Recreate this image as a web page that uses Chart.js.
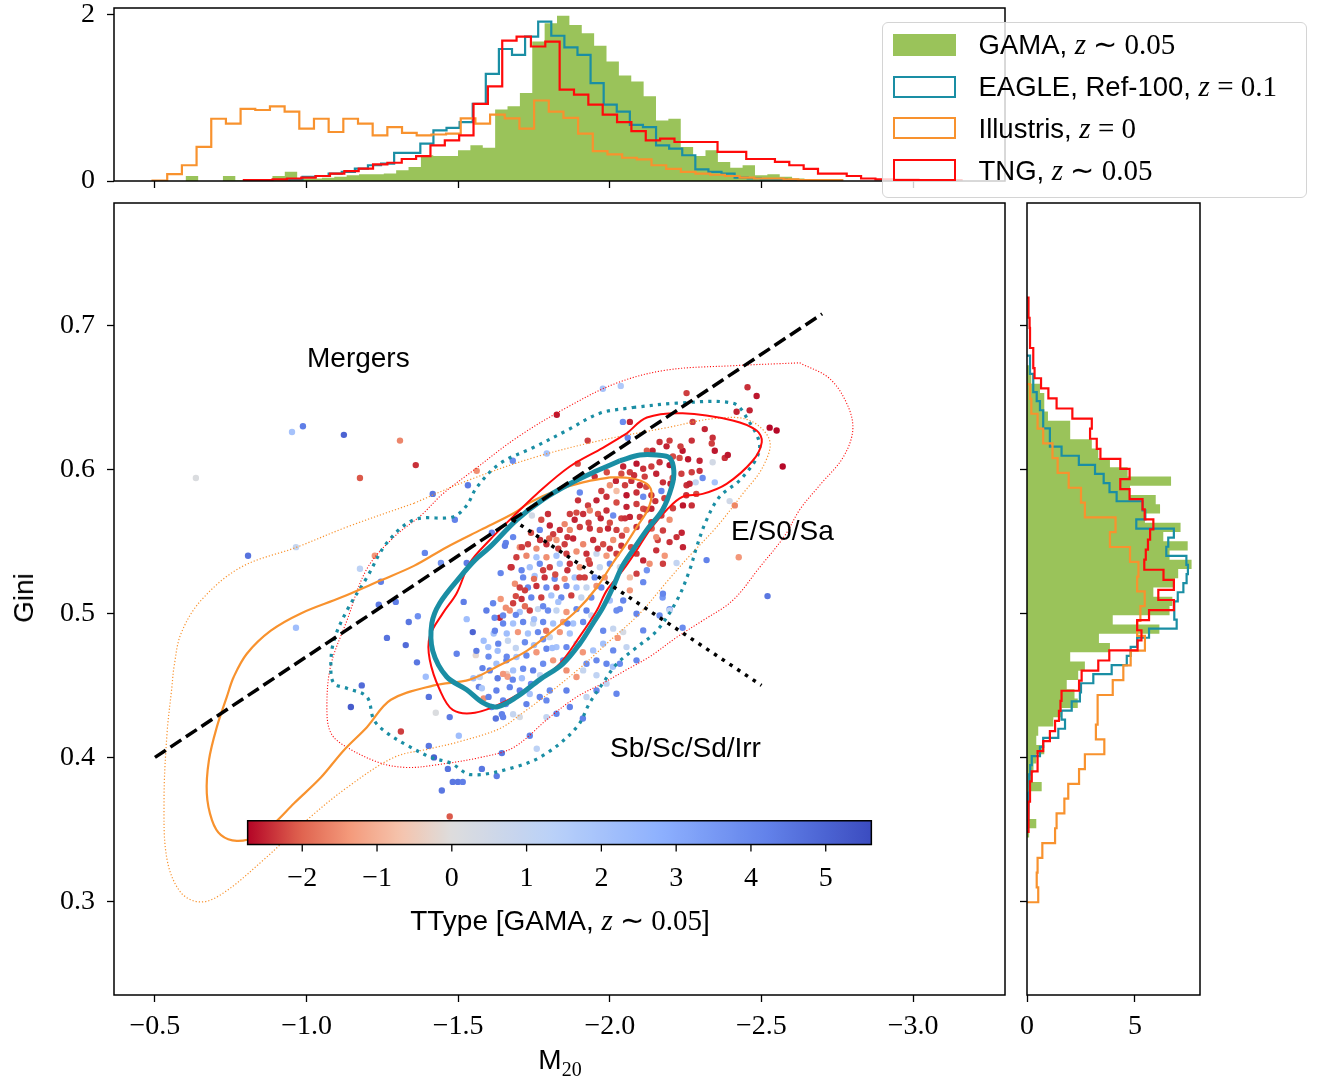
<!doctype html>
<html lang="en">
<head>
<meta charset="UTF-8">
<title>Gini – M20 plane: GAMA, EAGLE, Illustris and TNG</title>
<script src="https://cdn.jsdelivr.net/npm/chart.js"></script>
<style>
  body { margin: 0; background: #fff; }
  #fig { position: relative; width: 1317px; height: 1084px; overflow: hidden;
         font-family: "Liberation Sans", Arial, sans-serif; color: #000; }
  #fig canvas { position: absolute; }
  .txt { position: absolute; font-size: 28px; line-height: 1; white-space: nowrap; transform: translateY(-50%); }
  .mi { font-family: "Liberation Serif", serif; font-style: italic; font-size: 29px; }
  .rm { font-family: "Liberation Serif", serif; font-size: 29px; }
  .sub { font-family: "Liberation Serif", serif; font-size: 20px; position: relative; top: 7px; }
  #legend { position: absolute; left: 882px; top: 22px; width: 425px; height: 176px; box-sizing: border-box;
            border: 1.5px solid #d4d4d4; border-radius: 6px; background: rgba(255,255,255,0.8); }
  .entry { position: absolute; left: 0; height: 30px; display: flex; align-items: center; font-size: 27.5px; white-space: nowrap; }
  .patch { display: inline-block; margin-left: 9.5px; width: 63px; height: 22px; box-sizing: border-box; }
  .entry .label { margin-left: 23px; line-height: 1; }
</style>
</head>
<body>
<div id="fig">
  <canvas id="top" width="1010" height="192" style="left:0;top:0"></canvas>
  <canvas id="main" width="1012" height="894" style="left:0;top:190px"></canvas>
  <canvas id="side" width="305" height="894" style="left:1012px;top:190px"></canvas>

  <div class="txt" style="left:24px;top:598px;transform:translate(-50%,-50%) rotate(-90deg)">Gini</div>
  <div class="txt" style="left:560px;top:1060px;transform:translate(-50%,-50%)">M<span class="sub">20</span></div>
  <div class="txt" style="left:307px;top:358px">Mergers</div>
  <div class="txt" style="left:731px;top:531px">E/S0/Sa</div>
  <div class="txt" style="left:610px;top:748px">Sb/Sc/Sd/Irr</div>
  <div class="txt" style="left:560px;top:920px;transform:translate(-50%,-50%)">TType [GAMA, <span class="mi">z</span><span class="rm"> ∼ 0.05</span>]</div>

  <div id="legend">
    <div class="entry" style="top:6.5px"><span class="patch" style="background:#9ac35a"></span><span class="label">GAMA, <span class="mi">z</span><span class="rm"> ∼ 0.05</span></span></div>
    <div class="entry" style="top:48.5px"><span class="patch" style="border:2.5px solid #1a8ea4"></span><span class="label">EAGLE, Ref-100, <span class="mi">z</span><span class="rm"> = 0.1</span></span></div>
    <div class="entry" style="top:90.3px"><span class="patch" style="border:2.5px solid #f8922e"></span><span class="label">Illustris, <span class="mi">z</span><span class="rm"> = 0</span></span></div>
    <div class="entry" style="top:132px"><span class="patch" style="border:2.5px solid #ff0a0a"></span><span class="label">TNG, <span class="mi">z</span><span class="rm"> ∼ 0.05</span></span></div>
  </div>
</div>

<script>
// ---------------- data ----------------
const T_MIN = -2.73, T_MAX = 5.61;          // colour-bar range of TType

const m20Ticks = [-0.5, -1.0, -1.5, -2.0, -2.5, -3.0];
const giniTicks = [0.3, 0.4, 0.5, 0.6, 0.7];
const topDensityTicks = [0, 2];
const sideDensityTicks = [0, 5];
const ttypeTicks = [-2, -1, 0, 1, 2, 3, 4, 5];

// GAMA galaxies: [M20, Gini, TType]
const gamaGalaxies = [
  [-0.635,0.594,0.1],[-0.952,0.626,2.0],[-0.988,0.630,4.3],[-1.123,0.624,5.0],[-1.308,0.620,-1.6],
  [-1.360,0.603,-2.4],[-1.176,0.594,-2.1],[-0.807,0.540,4.6],[-0.965,0.546,0.9],[-0.965,0.490,2.2],
  [-1.225,0.540,-1.4],[-1.176,0.531,1.2],[-1.245,0.522,4.3],[-1.238,0.506,4.4],[-1.294,0.508,4.3],
  [-1.337,0.494,4.5],[-1.367,0.498,3.8],[-1.390,0.542,4.1],[-1.443,0.535,3.7],[-1.528,0.535,4.4],
  [-1.489,0.565,4.2],[-1.265,0.483,4.6],[-1.327,0.478,4.8],[-1.364,0.466,4.5],[-1.393,0.456,2.2],
  [-1.403,0.442,4.6],[-1.146,0.435,5.2],[-1.182,0.450,4.8],[-1.426,0.431,0.1],[-1.311,0.418,-2.3],
  [-1.403,0.408,4.5],[-1.420,0.400,5.1],[-1.466,0.392,4.6],[-1.502,0.415,2.2],[-1.482,0.383,4.5],
  [-1.499,0.383,4.5],[-1.515,0.383,4.3],[-1.446,0.377,4.5],[-1.472,0.359,-2.1],[-1.578,0.392,4.5],
  [-1.627,0.387,4.4],[-1.644,0.403,4.5],[-1.472,0.428,4.4],[-1.518,0.508,4.3],[-1.528,0.496,2.2],
  [-1.548,0.487,5.0],[-1.495,0.472,4.2],[-1.558,0.471,-0.2],[-1.617,0.486,2.0],[-1.584,0.481,2.2],
  [-1.640,0.510,-1.4],[-1.637,0.497,-2.5],[-1.657,0.504,-1.5],[-1.673,0.532,-2.4],[-1.640,0.528,4.1],
  [-1.657,0.549,4.2],[-1.568,0.449,4.4],[-1.578,0.448,1.8],[-1.584,0.441,-1.5],[-1.630,0.455,4.4],
  [-1.660,0.458,-0.3],[-1.663,0.456,-1.3],[-1.624,0.427,4.6],[-1.644,0.430,4.2],[-1.657,0.437,3.9],
  [-1.977,0.656,2.0],[-2.036,0.658,1.7],[-1.825,0.638,-2.6],[-2.253,0.653,-2.3],[-2.454,0.657,-2.4],
  [-2.484,0.651,-2.6],[-2.418,0.640,-2.5],[-2.461,0.641,-2.5],[-2.527,0.629,-2.7],[-2.550,0.627,-2.7],
  [-2.570,0.602,-2.7],[-2.520,0.512,4.5],[-2.425,0.539,-1.4],[-2.412,0.575,-1.6],[-2.319,0.537,4.2],
  [-2.240,0.490,3.9],[-2.197,0.503,3.7],[-2.220,0.535,1.0],[-2.174,0.511,3.5],[-2.122,0.530,3.7],
  [-2.181,0.540,-1.4],[-2.158,0.551,-2.3],[-2.237,0.556,-2.5],[-2.220,0.553,-2.4],[-2.197,0.565,-1.5],
  [-2.138,0.559,-2.1],[-2.270,0.575,-2.4],[-2.346,0.591,2.0],[-2.395,0.578,0.5],[-2.339,0.605,0.4],
  [-2.306,0.594,3.9],[-2.283,0.591,1.0],[-2.270,0.598,-2.3],[-2.253,0.589,-2.4],[-2.207,0.594,-2.2],
  [-2.273,0.633,-2.3],[-2.313,0.628,-2.5],[-2.339,0.622,-2.4],[-2.336,0.618,-2.3],[-2.346,0.613,-2.6],
  [-2.379,0.608,-2.4],[-2.389,0.610,-2.6],[-2.296,0.606,-2.5],[-2.270,0.620,-2.4],[-2.240,0.613,-2.6],
  [-2.230,0.608,-2.2],[-2.197,0.620,-2.3],[-2.164,0.619,-2.4],[-2.141,0.613,-2.5],[-2.122,0.613,-2.1],
  [-2.066,0.633,-2.5],[-2.043,0.633,3.9],[-2.059,0.622,4.1],[-1.927,0.620,-2.3],[-1.894,0.604,-2.2],
  [-1.792,0.611,2.0],[-1.680,0.606,3.9],[-1.561,0.599,-1.5],[-1.532,0.589,4.4],[-1.416,0.583,4.5],
  [-1.611,0.556,4.2],[-1.654,0.547,4.3],[-1.743,0.568,0.4],
  [-2.187,0.616,-2.5],[-2.233,0.616,-2.3],[-2.258,0.607,-2.6],[-2.208,0.609,-2.2],[-2.164,0.605,-2.4],
  [-2.197,0.603,-2.6],[-2.236,0.597,-2.3],[-2.263,0.590,-2.5],[-2.296,0.599,-2.4],[-2.285,0.583,-2.2],
  [-2.252,0.582,-2.4],[-2.241,0.575,-2.6],[-2.208,0.573,-2.3],[-2.175,0.591,-2.4],[-2.153,0.597,-2.5],
  [-2.137,0.602,-2.3],[-2.110,0.6005,-2.4],[-2.088,0.604,-2.6],[-2.066,0.598,-2.3],[-2.044,0.602,-2.5],
  [-2.038,0.597,-2.2],[-2.071,0.592,-2.4],[-2.099,0.589,-2.5],[-2.115,0.595,-2.3],[-2.088,0.584,-2.4],
  [-2.055,0.582,-2.6],[-2.022,0.585,-0.8],[-2.000,0.589,-1.5],[-1.972,0.585,-2.3],[-1.989,0.581,-2.4],
  [-2.022,0.577,-2.2],[-2.055,0.574,-2.5],[-2.088,0.576,-2.3],[-2.110,0.581,3.9],[-2.137,0.582,-2.4],
  [-2.170,0.585,4.1],[-1.956,0.5785,-2.5],[-1.928,0.575,-2.3],[-1.895,0.5785,-2.4],[-1.901,0.584,4.0],
  [-1.868,0.569,-2.3],[-1.851,0.562,-1.6],[-1.884,0.565,-2.5],[-1.912,0.569,-2.4],[-1.934,0.5715,-1.6],
  [-1.961,0.569,-2.2],[-1.989,0.5715,-2.4],[-2.011,0.568,3.9],[-2.038,0.566,-2.3],[-2.066,0.567,-2.5],
  [-2.099,0.567,-2.3],[-2.088,0.560,-2.4],[-2.055,0.558,-1.5],[-2.022,0.558,-2.3],[-1.994,0.559,-2.5],
  [-1.967,0.558,-2.2],[-1.934,0.559,-2.4],[-1.901,0.560,-2.3],[-1.868,0.558,-1.6],[-1.835,0.558,-2.4],
  [-1.813,0.555,-2.3],[-1.802,0.561,-2.5],[-1.774,0.565,-2.2],[-1.796,0.569,-2.4],[-1.769,0.558,4.0],
  [-1.681,0.553,4.1],[-1.703,0.546,-1.5],[-1.730,0.548,-2.3],[-1.758,0.545,-1.6],[-1.791,0.548,-2.4],
  [-1.824,0.551,-1.4],[-1.851,0.548,-2.3],[-1.879,0.552,-2.5],[-1.912,0.548,-1.6],[-1.945,0.551,-2.4],
  [-1.978,0.548,-2.2],[-2.011,0.551,-1.5],[-2.038,0.547,-2.4],[-2.022,0.5415,-2.3],[-1.989,0.540,-1.4],
  [-1.956,0.5415,0.8],[-1.923,0.5415,-2.4],[-1.890,0.543,-1.5],[-1.857,0.5415,-2.3],[-1.824,0.540,2.0],
  [-1.791,0.539,-1.5],[-1.758,0.539,1.9],[-1.725,0.540,-1.6],[-1.692,0.539,-2.3],[-1.676,0.532,-2.4],
  [-1.709,0.530,4.1],[-1.736,0.532,2.0],[-1.769,0.5345,3.9],[-1.802,0.532,-2.3],[-1.835,0.5345,2.1],
  [-1.868,0.5345,-2.4],[-1.901,0.532,-1.5],[-1.934,0.5345,-2.3],[-1.967,0.532,0.9],[-2.000,0.5345,3.9],
  [-2.033,0.532,0.4],[-1.983,0.525,-1.5],[-1.950,0.525,4.0],[-1.917,0.525,-2.3],[-1.884,0.525,2.0],
  [-1.851,0.524,-1.5],[-1.818,0.524,3.9],[-1.785,0.525,-2.4],[-1.752,0.526,2.0],[-1.714,0.525,4.0],
  [-1.687,0.5206,-1.5],[-1.703,0.518,-2.3],[-1.730,0.518,4.0],[-1.758,0.519,-2.4],[-1.791,0.518,3.9],
  [-1.824,0.518,-2.3],[-1.857,0.519,4.0],[-1.890,0.518,2.0],[-1.923,0.518,0.9],[-1.956,0.519,-1.5],
  [-1.972,0.518,4.1],[-1.939,0.511,3.9],[-1.906,0.511,0.9],[-1.873,0.5125,-2.3],[-1.840,0.511,4.0],
  [-1.807,0.5125,2.0],[-1.774,0.511,-2.3],[-1.741,0.511,4.1],[-1.709,0.510,-2.4],[-1.681,0.507,-2.3],
  [-1.615,0.507,4.1],[-1.593,0.502,4.3],[-1.648,0.4986,4.0],[-1.670,0.502,-1.5],[-1.703,0.501,2.0],
  [-1.736,0.502,-2.3],[-1.763,0.503,0.9],[-1.796,0.502,3.9],[-1.824,0.502,1.0],[-1.857,0.501,-1.4],
  [-1.890,0.503,4.0],[-1.923,0.502,4.2],[-1.939,0.4986,0.9],[-1.912,0.494,4.0],[-1.879,0.493,2.0],
  [-1.846,0.494,-1.4],[-1.813,0.493,2.1],[-1.780,0.494,4.0],[-1.747,0.493,0.9],[-1.714,0.494,4.1],
  [-1.681,0.493,2.0],[-1.648,0.493,4.1],[-1.621,0.488,4.2],[-1.560,0.474,4.4],[-1.599,0.4766,2.0],
  [-1.632,0.479,4.1],[-1.664,0.481,0.9],[-1.697,0.487,-1.4],[-1.730,0.486,2.0],[-1.763,0.487,4.0],
  [-1.802,0.4835,1.0],[-1.835,0.487,-1.4],[-1.868,0.486,2.0],[-1.890,0.479,1.1],[-1.857,0.4766,4.0],
  [-1.824,0.4766,2.0],[-1.791,0.4755,4.1],[-1.758,0.473,-1.4],[-1.725,0.4708,4.0],[-1.692,0.4697,2.0],
  [-1.659,0.4674,4.2],[-1.626,0.465,2.1],[-1.604,0.4604,4.2],[-1.571,0.4558,0.9],[-1.648,0.458,-1.4],
  [-1.681,0.4604,2.0],[-1.714,0.4616,4.0],[-1.747,0.4604,4.2],[-1.780,0.465,3.9],[-1.813,0.4674,-1.4],
  [-1.846,0.4674,4.0],[-1.670,0.4488,4.1],[-1.703,0.4465,4.3],[-1.736,0.444,2.0],[-1.769,0.442,4.1],
  [-1.802,0.4465,3.9],[-1.626,0.4465,4.2],[-1.610,0.435,4.3],[-1.648,0.4396,4.1],[-1.681,0.430,0.9],
  [-1.725,0.437,4.2],[-1.791,0.4396,4.0],[-1.857,0.4465,4.2],[-1.890,0.4558,-1.4],[-1.857,0.4604,-1.5],
  [-1.912,0.4604,0.9],[-1.956,0.457,1.1],[-1.923,0.465,3.9],[-1.945,0.4743,2.0],[-1.978,0.479,2.1],
  [-2.011,0.4743,4.0],[-1.989,0.465,4.1],[-2.033,0.465,3.9],[-1.978,0.488,4.0],[-2.011,0.4894,0.9],
  [-2.044,0.487,0.3],[-2.022,0.502,3.9],[-2.000,0.509,2.0],[-2.044,0.509,4.1],[-2.066,0.516,-1.4],
  [-2.110,0.5217,4.0],[-2.088,0.5276,-2.3],[-2.066,0.525,-0.8],[-2.131,0.5345,-1.5],[-2.153,0.5438,-2.4],
  [-2.175,0.5345,-2.3],[-2.110,0.5368,-2.5],[-2.088,0.5415,-2.3],[-2.153,0.553,-1.5],[-2.197,0.5495,-2.4],
  [-2.241,0.546,-2.5],[-2.175,0.5576,-2.3],[-2.137,0.5634,-2.4],[-2.170,0.568,-2.3],[-2.137,0.5727,-2.5],
  [-2.110,0.5727,-2.2],[-2.175,0.5137,4.1],[-2.197,0.502,1.1],[-2.164,0.4986,3.9],[-2.088,0.4998,4.1],
  [-2.110,0.4882,4.0],[-2.055,0.4766,1.0],[-2.088,0.4674,4.1],[-1.956,0.4674,4.0],[-1.989,0.4512,1.1],
  [-2.022,0.4442,4.1],[-1.956,0.4465,4.0],[-1.923,0.4419,1.0],[-1.868,0.435,4.2],[-1.824,0.4303,4.1],
  [-1.791,0.428,1.0],[-1.703,0.428,0.3],[-1.648,0.428,4.2],[-2.033,0.503,3.9],[-2.010,0.463,2.0],
  [-1.911,0.473,-1.4],[-2.026,0.483,-1.4],[-1.736,0.415,4.2],[-1.759,0.406,1.2],[-1.911,0.427,4.2],
  [-1.950,0.595,-2.4],[-1.990,0.598,-2.2],[-2.020,0.592,-2.5],[-2.050,0.589,-2.3],[-2.080,0.596,-2.4],
  [-2.120,0.588,-2.2],[-2.150,0.578,-2.4],[-2.180,0.580,-2.3],[-2.200,0.590,-2.5],[-2.120,0.572,-2.3],
  [-2.050,0.566,-2.4],[-2.000,0.563,-2.2],[-1.970,0.566,-2.5],[-1.930,0.563,-2.3],[-1.890,0.570,-2.2],
  [-1.860,0.553,-2.4],[-1.830,0.545,-2.3],[-1.800,0.552,-2.0],[-1.770,0.551,-2.4],[-1.740,0.556,-2.2],
  [-1.710,0.546,-2.3],[-1.960,0.545,-2.4],[-1.930,0.537,-2.2],[-1.900,0.525,-2.3],[-1.860,0.530,-2.4],
  [-1.820,0.527,-2.2],[-1.780,0.530,-2.3],[-1.750,0.524,-1.9],[-1.720,0.516,-2.3],[-1.690,0.512,-2.2],
  [-2.040,0.554,-2.3],[-2.070,0.546,-2.2],[-2.000,0.545,-2.4],
  [-1.600,0.470,3.9],[-1.630,0.474,2.2],[-1.660,0.470,4.0],[-1.690,0.476,1.0],[-1.720,0.480,3.9],
  [-1.750,0.478,2.2],[-1.780,0.482,3.8],[-1.810,0.476,2.2],[-1.680,0.454,4.1],[-1.710,0.455,2.2],
  [-1.740,0.451,4.0],[-1.770,0.457,1.0],[-1.620,0.497,4.0],[-1.660,0.486,2.2],[-1.690,0.499,4.1],
  [-1.750,0.496,2.1],[-1.780,0.505,4.0],[-1.830,0.508,2.0],[-1.860,0.493,4.2],[-1.580,0.462,4.2],
  [-1.550,0.455,2.2],[-1.600,0.442,4.2],[-1.720,0.505,-1.9],[-1.790,0.488,-1.8]
];

// density contours, [M20, Gini] vertices of each closed level
const eagleInner = [[-2.033,0.606],[-2.099,0.610],[-2.155,0.610],[-2.197,0.608],[-2.211,0.599],[-2.204,0.588],
  [-2.174,0.572],[-2.122,0.558],[-2.076,0.544],[-2.039,0.532],[-2.010,0.518],[-1.977,0.504],[-1.944,0.493],
  [-1.901,0.479],[-1.845,0.465],[-1.769,0.454],[-1.693,0.442],[-1.627,0.435],[-1.581,0.438],[-1.528,0.447],
  [-1.462,0.456],[-1.416,0.474],[-1.413,0.493],[-1.439,0.507],[-1.505,0.525],[-1.555,0.537],[-1.604,0.546],
  [-1.693,0.565],[-1.779,0.579],[-1.868,0.590],[-1.957,0.599],[-2.033,0.606]];
const eagleOuter = [[-2.076,0.643],[-2.221,0.646],[-2.405,0.646],[-2.451,0.636],[-2.494,0.615],[-2.438,0.5945],
  [-2.362,0.581],[-2.319,0.565],[-2.286,0.546],[-2.263,0.530],[-2.221,0.509],[-2.155,0.488],[-2.089,0.4765],
  [-2.023,0.465],[-1.977,0.4515],[-1.934,0.438],[-1.891,0.421],[-1.785,0.402],[-1.683,0.393],[-1.542,0.388],
  [-1.476,0.396],[-1.410,0.400],[-1.331,0.4085],[-1.265,0.417],[-1.222,0.426],[-1.199,0.442],[-1.133,0.448],
  [-1.090,0.4515],[-1.080,0.463],[-1.090,0.481],[-1.133,0.502],[-1.199,0.525],[-1.265,0.549],[-1.354,0.565],
  [-1.482,0.567],[-1.528,0.575],[-1.561,0.5875],[-1.637,0.604],[-1.746,0.615],[-1.858,0.627],[-1.967,0.639],
  [-2.076,0.643]];
const tngInner = [[-2.056,0.625],[-2.122,0.636],[-2.240,0.639],[-2.405,0.634],[-2.484,0.627],[-2.501,0.619],
  [-2.471,0.606],[-2.385,0.590],[-2.306,0.583],[-2.240,0.581],[-2.188,0.572],[-2.132,0.558],[-2.089,0.544],
  [-2.043,0.530],[-1.990,0.516],[-1.957,0.502],[-1.901,0.484],[-1.835,0.465],[-1.759,0.452],[-1.647,0.438],
  [-1.555,0.431],[-1.482,0.433],[-1.439,0.447],[-1.406,0.468],[-1.406,0.484],[-1.449,0.500],[-1.495,0.514],
  [-1.538,0.535],[-1.604,0.551],[-1.680,0.567],[-1.759,0.583],[-1.868,0.602],[-1.977,0.615],[-2.056,0.625]];
const tngOuter = [[-2.626,0.674],[-2.725,0.663],[-2.784,0.6445],[-2.801,0.627],[-2.768,0.608],[-2.692,0.589],
  [-2.626,0.572],[-2.577,0.554],[-2.494,0.532],[-2.405,0.509],[-2.306,0.495],[-2.221,0.4835],[-2.132,0.470],
  [-2.056,0.461],[-1.977,0.4515],[-1.891,0.442],[-1.802,0.428],[-1.683,0.407],[-1.574,0.400],[-1.420,0.3946],
  [-1.331,0.393],[-1.245,0.396],[-1.133,0.407],[-1.080,0.417],[-1.067,0.435],[-1.080,0.464],[-1.133,0.495],
  [-1.199,0.531],[-1.288,0.553],[-1.377,0.568],[-1.449,0.583],[-1.548,0.599],[-1.693,0.622],[-1.858,0.643],
  [-2.023,0.660],[-2.188,0.669],[-2.405,0.672],[-2.626,0.674]];
const illustrisInner = [[-2.000,0.5945],[-2.066,0.594],[-2.122,0.590],[-2.138,0.583],[-2.125,0.572],[-2.089,0.560],
  [-2.056,0.549],[-2.010,0.535],[-1.957,0.518],[-1.891,0.502],[-1.812,0.488],[-1.726,0.474],[-1.627,0.463],
  [-1.538,0.454],[-1.420,0.450],[-1.278,0.440],[-1.199,0.421],[-1.123,0.405],[-1.047,0.386],[-0.958,0.368],
  [-0.892,0.354],[-0.836,0.345],[-0.770,0.342],[-0.718,0.346],[-0.688,0.3565],[-0.671,0.375],[-0.678,0.398],
  [-0.704,0.421],[-0.737,0.442],[-0.760,0.456],[-0.803,0.472],[-0.882,0.488],[-0.981,0.500],[-1.113,0.511],
  [-1.245,0.523],[-1.354,0.533],[-1.462,0.546],[-1.574,0.558],[-1.683,0.5695],[-1.736,0.577],[-1.825,0.5855],
  [-1.911,0.591],[-2.000,0.5945]];
const illustrisOuter = [[-1.354,0.5765],[-1.528,0.592],[-1.746,0.608],[-1.967,0.620],[-2.188,0.629],[-2.352,0.6355],
  [-2.461,0.634],[-2.527,0.620],[-2.504,0.6015],[-2.438,0.583],[-2.352,0.560],[-2.263,0.540],[-2.188,0.522],
  [-2.099,0.500],[-2.000,0.481],[-1.901,0.462],[-1.802,0.445],[-1.713,0.431],[-1.637,0.420],[-1.505,0.411],
  [-1.406,0.406],[-1.288,0.400],[-1.133,0.379],[-1.001,0.3565],[-0.859,0.329],[-0.727,0.306],[-0.652,0.2996],
  [-0.586,0.306],[-0.540,0.329],[-0.530,0.370],[-0.540,0.417],[-0.556,0.449],[-0.563,0.463],[-0.586,0.486],
  [-0.652,0.509],[-0.783,0.532],[-0.968,0.546],[-1.133,0.560],[-1.354,0.5765]];

// Lotz et al. (2008) boundaries
const mergerM20 = [-0.5, -2.7];
const mergerGini = [0.400, 0.708];
const hubbleM20 = [-1.68, -2.5];
const hubbleGini = [0.565, 0.450];

// M20 histograms: [first edge, bin step] and densities
const gamaM20Bins = [-0.6018, -0.04080];
const gamaM20Density = [0.06,0,0,0.06,0.01,0.01,0.01,0.06,0.11,0.03,0.03,0.04,0.05,0.07,0.08,0.08,0.09,0.13,
  0.17,0.31,0.30,0.30,0.37,0.43,0.40,0.86,0.90,1.06,1.68,1.90,1.99,1.88,1.78,1.63,1.44,1.27,1.20,1.02,0.73,
  0.75,0.41,0.30,0.37,0.23,0.16,0.19,0.07,0.08,0.05,0.03,0.02,0.02,0.01];
const eagleM20Bins = [-0.9433, -0.04318];
const eagleM20Density = [0.02,0.05,0.06,0.09,0.11,0.15,0.19,0.21,0.34,0.34,0.45,0.61,0.64,0.71,0.93,1.29,1.59,
  1.52,1.74,1.92,1.75,1.61,1.52,1.18,0.92,0.835,0.675,0.65,0.43,0.39,0.31,0.14,0.11,0.09,0.04,0.03,0.02,0.02,
  0.01,0.01];
const illustrisM20Bins = [-0.4921, -0.04839];
const illustrisM20Density = [0.005,0.084,0.19,0.41,0.75,0.69,0.87,0.855,0.90,0.835,0.63,0.75,0.59,0.75,0.69,
  0.55,0.65,0.58,0.55,0.56,0.57,0.755,0.69,0.80,0.755,0.63,0.97,0.835,0.76,0.57,0.36,0.32,0.28,0.26,0.19,
  0.145,0.11,0.09,0.075,0.06,0.04,0.03,0.03,0.02,0.01,0.01,0.01];
const tngM20Bins = [-0.7932, -0.04733];
const tngM20Density = [0.01,0.01,0.02,0.03,0.04,0.06,0.09,0.12,0.15,0.20,0.22,0.265,0.30,0.43,0.49,0.55,0.93,
  1.14,1.69,1.74,1.62,1.68,1.10,1.04,0.92,0.80,0.71,0.60,0.49,0.51,0.47,0.47,0.47,0.35,0.35,0.265,0.265,0.23,
  0.19,0.145,0.09,0.09,0.06,0.03,0.02,0.02,0.02,0.01,0.01,0.01];

// Gini histograms (edges run downwards from the first one)
const gamaGiniBins = [0.6723, -0.00643];
const gamaGiniDensity = [0.15,0.2,0.6,0.8,0.8,0.97,2.0,2.0,3.0,3.3,3.84,4.66,6.67,4.77,5.96,6.16,5.46,7.11,6.31,
  7.44,6.6,7.62,7.0,6.85,5.85,6.73,6.6,3.97,6.13,3.33,3.84,2.0,2.68,2.37,1.84,2.2,2.35,1.6,1.22,0.52,0.43,0.8,
  0.43,0.3,0.2,0.68,0.15,0.1,0.1,0.43,0.1];
const eagleGiniBins = [0.6790, -0.00632];
const eagleGiniDensity = [0.14,0.14,0.29,0.29,0.45,0.6,0.75,0.75,1.06,1.06,1.6,2.4,3.15,3.55,3.82,4.15,5.35,5.48,
  5.06,6.8,6.54,6.45,7.38,7.45,7.39,7.24,6.98,6.82,6.82,6.93,5.65,5.1,4.8,4.62,3.92,3.07,2.5,2.45,2.07,1.6,1.76,
  1.45,0.75,0.6,0.22,0.15,0.1,0.12,0.08,0.05,0.05,0.03];
const illustrisGiniBins = [0.6592, -0.01028];
const illustrisGiniDensity = [0.14,0.2,0.49,0.75,1.18,1.42,1.93,2.5,2.68,4.1,3.84,4.77,5.16,5.1,5.45,5.25,5.1,
  5.46,4.8,4.46,3.97,3.27,3.27,3.19,3.58,2.68,2.41,1.91,1.73,1.37,1.3,0.71,0.49,0.45,0.52];
const tngGiniBins = [0.7193, -0.0070];
const tngGiniDensity = [0.07,0.07,0.12,0.14,0.14,0.29,0.29,0.35,0.65,0.99,1.37,2.1,3.0,2.92,3.23,3.4,4.32,4.75,
  4.32,4.75,5.35,5.45,5.85,5.7,5.6,5.5,5.43,6.32,6.8,6.08,6.8,5.65,5.1,5.3,5.12,3.81,3.3,2.53,2.41,1.6,1.55,1.48,
  1.3,1.06,0.75,0.49,0.49,0.22,0.14,0.14,0.07,0.07,0.07];

// ---------------- styling helpers ----------------
const C = { gama: '#9ac35a', eagle: '#1a8ea4', illustris: '#f8922e', tng: '#ff0a0a' };

const coolwarm = [[59,76,192],[98,130,234],[141,176,254],[184,208,249],[221,221,221],
                  [245,196,173],[244,154,123],[222,96,77],[180,4,38]];
// reversed coolwarm, s in [0, 1]
function coolwarmR(s) {
  const u = (1 - Math.min(1, Math.max(0, s))) * 8;
  const i = Math.min(7, Math.floor(u)), f = u - i;
  const a = coolwarm[i], b = coolwarm[i + 1];
  return 'rgb(' + a.map((c, k) => Math.round(c + (b[k] - c) * f)).join(',') + ')';
}
// two-slope norm centred on TType = 0
function ttypeColor(t) {
  const s = t < 0 ? 0.5 * (t - T_MIN) / -T_MIN : 0.5 + 0.5 * t / T_MAX;
  return coolwarmR(s);
}

const pairs = (xs, ys) => xs.map((x, i) => ({ x, y: ys[i] }));

// outline of a histogram the way histtype='step' draws it
function stepOutline([start, step], counts, vertical) {
  const pts = [];
  const push = (edge, v) => pts.push(vertical ? { x: v, y: edge } : { x: edge, y: v });
  push(start, 0);
  counts.forEach((c, i) => { push(start + i * step, c); push(start + (i + 1) * step, c); });
  push(start + counts.length * step, 0);
  return pts;
}
const histFill = (bins, counts, vertical) => ({
  data: stepOutline(bins, counts, vertical), borderWidth: 0, backgroundColor: C.gama,
  fill: 'shape', pointRadius: 0, tension: 0, order: 10
});
const histStep = (bins, counts, vertical, color, order) => ({
  data: stepOutline(bins, counts, vertical), borderColor: color, borderWidth: 2.2,
  fill: false, pointRadius: 0, tension: 0, order
});
const contour = (pts, color, width, dash, order) => ({
  type: 'line', data: pts.map(([x, y]) => ({ x, y })), borderColor: color, borderWidth: width,
  borderDash: dash, tension: 0.35, pointRadius: 0, fill: false, order
});

const tickFont = { family: 'Liberation Serif', size: 28 };
const signed = digits => v => (v < 0 ? '\u2212' : '') + Math.abs(v).toFixed(digits);

function makeAxis({ min, max, ticks, labels, format, reverse = false, size, horizontal }) {
  return {
    type: 'linear', min, max, reverse,
    border: { display: false },
    grid: { drawOnChartArea: false, tickLength: 7, tickWidth: 1.3, tickColor: '#000' },
    ticks: { display: labels, color: '#000', font: tickFont, padding: horizontal ? 8 : 12,
             autoSkip: false, maxRotation: 0, callback: v => format(v) },
    afterBuildTicks: s => { s.ticks = ticks.map(value => ({ value })); },
    // fixed axis box, and no extra room asked for the end labels
    afterFit: s => {
      if (horizontal) { s.height = size; s.paddingLeft = 0; s.paddingRight = 0; }
      else { s.width = size; s.paddingTop = 0; s.paddingBottom = 0; }
    }
  };
}

const framePlugin = {
  id: 'frame',
  afterDraw(chart) {
    const { ctx, chartArea: a } = chart;
    ctx.save();
    ctx.strokeStyle = '#000';
    ctx.lineWidth = 1.5;
    ctx.strokeRect(a.left, a.top, a.right - a.left, a.bottom - a.top);
    ctx.restore();
  }
};

// horizontal TType colour bar inset in the lower part of the main panel
const colorbarPlugin = {
  id: 'ttypeColorbar',
  afterDatasetsDraw(chart) {
    const { ctx, chartArea: a } = chart;
    const w = a.right - a.left, h = a.bottom - a.top;
    const x0 = a.left + 0.15 * w, x1 = x0 + 0.70 * w;
    const y1 = a.bottom - 0.19 * h, y0 = y1 - 0.03 * h;
    const px = t => x0 + (t - T_MIN) / (T_MAX - T_MIN) * (x1 - x0);
    const grad = ctx.createLinearGradient(x0, 0, x1, 0);
    for (let i = 0; i <= 80; i++) grad.addColorStop(i / 80, ttypeColor(T_MIN + (T_MAX - T_MIN) * i / 80));
    ctx.save();
    ctx.fillStyle = grad;
    ctx.fillRect(x0, y0, x1 - x0, y1 - y0);
    ctx.strokeStyle = '#000';
    ctx.lineWidth = 1.5;
    ctx.strokeRect(x0, y0, x1 - x0, y1 - y0);
    ctx.lineWidth = 1.3;
    ctx.fillStyle = '#000';
    ctx.font = '28px "Liberation Serif"';
    ctx.textAlign = 'center';
    ctx.textBaseline = 'middle';
    ttypeTicks.forEach(t => {
      ctx.beginPath();
      ctx.moveTo(px(t), y1);
      ctx.lineTo(px(t), y1 + 7);
      ctx.stroke();
      ctx.fillText(signed(0)(t), px(t), y1 + 34);
    });
    ctx.restore();
  }
};

const common = {
  responsive: false, animation: false, events: [],
  plugins: { legend: { display: false }, tooltip: { enabled: false } }
};

// ---------------- main Gini–M20 panel ----------------
new Chart(document.getElementById('main'), {
  type: 'scatter',
  data: {
    datasets: [
      { type: 'line', data: pairs(mergerM20, mergerGini), borderColor: '#000', borderWidth: 3.5,
        borderDash: [13, 5.6], pointRadius: 0, fill: false, order: 1 },
      { type: 'line', data: pairs(hubbleM20, hubbleGini), borderColor: '#000', borderWidth: 3.5,
        borderDash: [3.5, 5.8], pointRadius: 0, fill: false, order: 2 },
      contour(eagleInner, C.eagle, 5, [], 4),
      contour(tngInner, C.tng, 2, [], 5),
      contour(illustrisInner, C.illustris, 2.2, [], 6),
      contour(eagleOuter, C.eagle, 3.2, [3.2, 5.2], 7),
      contour(tngOuter, C.tng, 1.1, [1.1, 1.8], 8),
      contour(illustrisOuter, C.illustris, 1.2, [1.2, 2], 9),
      { type: 'scatter', data: gamaGalaxies.map(g => ({ x: g[0], y: g[1] })),
        backgroundColor: gamaGalaxies.map(g => ttypeColor(g[2])),
        pointRadius: 3.2, pointBorderWidth: 0, order: 10 }
    ]
  },
  options: Object.assign({}, common, {
    layout: { padding: { left: 0, right: 7, top: 13, bottom: 0 }, autoPadding: false },
    scales: {
      x: makeAxis({ min: -3.303, max: -0.365, reverse: true, ticks: m20Ticks, labels: true,
                    format: signed(1), size: 89, horizontal: true }),
      y: makeAxis({ min: 0.235, max: 0.785, ticks: giniTicks, labels: true, format: signed(1), size: 114 })
    }
  }),
  plugins: [colorbarPlugin, framePlugin]
});

// ---------------- M20 marginal histogram ----------------
new Chart(document.getElementById('top'), {
  type: 'line',
  data: {
    datasets: [
      histFill(gamaM20Bins, gamaM20Density, false),
      histStep(eagleM20Bins, eagleM20Density, false, C.eagle, 3),
      histStep(illustrisM20Bins, illustrisM20Density, false, C.illustris, 2),
      histStep(tngM20Bins, tngM20Density, false, C.tng, 1)
    ]
  },
  options: Object.assign({}, common, {
    layout: { padding: { left: 0, right: 5, top: 8, bottom: 0 }, autoPadding: false },
    scales: {
      x: makeAxis({ min: -3.303, max: -0.365, reverse: true, ticks: m20Ticks, labels: false,
                    format: signed(1), size: 11, horizontal: true }),
      y: makeAxis({ min: 0, max: 2.084, ticks: topDensityTicks, labels: true, format: signed(0), size: 114 })
    }
  }),
  plugins: [framePlugin]
});

// ---------------- Gini marginal histogram ----------------
new Chart(document.getElementById('side'), {
  type: 'line',
  data: {
    datasets: [
      histFill(gamaGiniBins, gamaGiniDensity, true),
      histStep(eagleGiniBins, eagleGiniDensity, true, C.eagle, 3),
      histStep(illustrisGiniBins, illustrisGiniDensity, true, C.illustris, 2),
      histStep(tngGiniBins, tngGiniDensity, true, C.tng, 1)
    ]
  },
  options: Object.assign({}, common, {
    layout: { padding: { left: 0, right: 117, top: 13, bottom: 0 }, autoPadding: false },
    scales: {
      x: makeAxis({ min: 0, max: 8.01, ticks: sideDensityTicks, labels: true, format: signed(0),
                    size: 89, horizontal: true }),
      y: makeAxis({ min: 0.235, max: 0.785, ticks: giniTicks, labels: false, format: signed(1), size: 15 })
    }
  }),
  plugins: [framePlugin]
});
</script>
</body>
</html>
